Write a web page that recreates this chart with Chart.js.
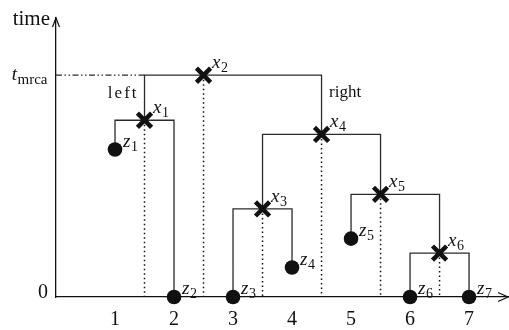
<!DOCTYPE html>
<html>
<head>
<meta charset="utf-8">
<script src="https://cdn.jsdelivr.net/npm/chart.js@4.4.1/dist/chart.umd.min.js"></script>
<style>
html,body{margin:0;padding:0;background:#fff;}
#c{display:block;}
</style>
</head>
<body>
<canvas id="c" width="509" height="330"></canvas>
<script>
// ---- data ----
const leafNames = ['z1','z2','z3','z4','z5','z6','z7'];
const leafX     = [1, 2, 3, 4, 5, 6, 7];
const leafTime  = [6.65, 0, 0, 1.33, 2.63, 0, 0];

const nodeNames = ['x1','x2','x3','x4','x5','x6'];
const nodeX     = [1.5, 2.5, 3.5, 4.5, 5.5, 6.5];
const nodeTime  = [7.97, 10, 3.97, 7.33, 4.63, 1.98];
const leftChild  = ['z1','x1','z3','x3','z5','z6'];
const rightChild = ['z2','x4','z4','x5','x6','z7'];

const xTicks = [1, 2, 3, 4, 5, 6, 7];
const rootName = 'x2';
const tmrca = nodeTime[nodeNames.indexOf(rootName)];

// ---- helpers ----
function posOf(name){
  let i = leafNames.indexOf(name);
  if (i >= 0) return {x: leafX[i], y: leafTime[i]};
  i = nodeNames.indexOf(name);
  return {x: nodeX[i], y: nodeTime[i]};
}

const LINE = '#2b2b2b';
const INK = '#111';
const SERIF = '"Liberation Serif", "Times New Roman", serif';

const datasets = [];
// points first (drawn on top)
datasets.push({
  label: 'nodes',
  data: nodeX.map((x,i)=>({x, y: nodeTime[i]})),
  pointStyle: 'crossRot', pointRadius: 10, borderWidth: 4.5,
  borderColor: INK, backgroundColor: INK, showLine: false, order: 0, clip: false
});
datasets.push({
  label: 'leaves',
  data: leafX.map((x,i)=>({x, y: leafTime[i]})),
  pointStyle: 'circle', pointRadius: 7.3, borderWidth: 0,
  borderColor: INK, backgroundColor: INK, showLine: false, order: 1, clip: false
});
// tree branches
nodeNames.forEach((n,i)=>{
  const l = posOf(leftChild[i]), r = posOf(rightChild[i]);
  datasets.push({
    label: 'branch ' + n,
    data: [{x:l.x,y:l.y},{x:l.x,y:nodeTime[i]},{x:r.x,y:nodeTime[i]},{x:r.x,y:r.y}],
    showLine: true, pointRadius: 0, borderColor: LINE, borderWidth: 1.3,
    tension: 0, fill: false, order: 3, clip: false
  });
  // dotted drop line
  datasets.push({
    label: 'drop ' + n,
    data: [{x:nodeX[i],y:nodeTime[i]},{x:nodeX[i],y:0}],
    showLine: true, pointRadius: 0, borderColor: INK, borderWidth: 1.5,
    borderDash: [1.5, 3], tension: 0, fill: false, order: 4, clip: false
  });
});
// t_mrca dash-dot-dot line
const rootLeft = posOf(leftChild[nodeNames.indexOf(rootName)]);
datasets.push({
  label: 'tmrca',
  data: [{x:0,y:tmrca},{x:rootLeft.x,y:tmrca}],
  showLine: true, pointRadius: 0, borderColor: LINE, borderWidth: 1.2,
  borderDash: [6, 2.5, 1.5, 2.5, 1.5, 2.5], tension: 0, fill: false, order: 4, clip: false
});

function subText(ctx, main, sub, x, y, mainSize, subSize, italic){
  ctx.font = (italic ? 'italic ' : '') + mainSize + 'px ' + SERIF;
  ctx.textAlign = 'left';
  ctx.textBaseline = 'alphabetic';
  ctx.fillText(main, x, y);
  const w = ctx.measureText(main).width;
  ctx.font = subSize + 'px ' + SERIF;
  ctx.fillText(sub, x + w + 0.5, y + 4);
}

const decor = {
  id: 'decor',
  afterDraw(chart){
    const ctx = chart.ctx;
    const xs = chart.scales.x, ys = chart.scales.y;
    const ax = xs.getPixelForValue(0), ay = ys.getPixelForValue(0);
    ctx.save();
    ctx.fillStyle = INK;
    // node labels
    nodeNames.forEach((n,i)=>{
      const px = xs.getPixelForValue(nodeX[i]), py = ys.getPixelForValue(nodeTime[i]);
      subText(ctx, n[0], n.slice(1), px + 8.5, py - 7, 19, 14, true);
    });
    leafNames.forEach((n,i)=>{
      const px = xs.getPixelForValue(leafX[i]), py = ys.getPixelForValue(leafTime[i]);
      subText(ctx, n[0], n.slice(1), px + 8, py - 3, 19, 14, true);
    });
    // left / right labels
    const ri = nodeNames.indexOf(rootName);
    const rr = posOf(rightChild[ri]);
    const ty = ys.getPixelForValue(tmrca);
    ctx.font = '17px ' + SERIF;
    ctx.textBaseline = 'alphabetic';
    if ('letterSpacing' in ctx) ctx.letterSpacing = '2px';
    ctx.textAlign = 'right';
    ctx.fillText('left', xs.getPixelForValue(rootLeft.x) - 6, ty + 23);
    if ('letterSpacing' in ctx) ctx.letterSpacing = '0px';
    ctx.textAlign = 'left';
    ctx.fillText('right', xs.getPixelForValue(rr.x) + 7.5, ty + 22);
    // y labels
    ctx.font = '20px ' + SERIF;
    ctx.textAlign = 'right';
    ctx.fillText('0', ax - 8, ay + 1);
    ctx.font = 'italic 19px ' + SERIF;
    const wt = ctx.measureText('t').width;
    ctx.font = '15px ' + SERIF;
    const wm = ctx.measureText('mrca').width;
    const sx = ax - 8 - wt - wm - 1;
    subText(ctx, 't', 'mrca', sx, ty + 5, 19, 15, true);
    ctx.font = '21px ' + SERIF;
    ctx.textAlign = 'right';
    ctx.fillText('time', ax - 6, ys.top + 7);
    // arrows
    ctx.strokeStyle = INK;
    ctx.lineWidth = 1.2;
    ctx.beginPath();
    const topY = ys.top;
    ctx.moveTo(ax - 3.5, topY + 9); ctx.lineTo(ax, topY); ctx.lineTo(ax + 3.5, topY + 9);
    const rx = xs.right;
    ctx.moveTo(rx - 10, ay - 4.5); ctx.lineTo(rx, ay); ctx.lineTo(rx - 10, ay + 4.5);
    ctx.stroke();
    ctx.restore();
  }
};

new Chart(document.getElementById('c'), {
  type: 'scatter',
  data: { datasets },
  options: {
    responsive: false,
    devicePixelRatio: 1,
    animation: false,
    layout: { autoPadding: false, padding: { top: 18, right: 1, left: 0, bottom: 0 } },
    plugins: { legend: { display: false }, tooltip: { enabled: false } },
    scales: {
      x: {
        type: 'linear', min: 0, max: 7.66,
        grid: { display: false, drawTicks: false },
        border: { display: true, color: INK, width: 1.3 },
        ticks: { color: INK, padding: 11, font: { family: SERIF, size: 20 }, callback: v => String(v) },
        afterBuildTicks: s => { s.ticks = xTicks.map(v => ({ value: v })); },
        afterFit: s => { s.height = 33; s.paddingLeft = 0; s.paddingRight = 0; }
      },
      y: {
        type: 'linear', min: 0, max: 12.58,
        grid: { display: false, drawTicks: false },
        border: { display: true, color: INK, width: 1.3 },
        ticks: { display: false },
        afterFit: s => { s.width = 56; s.paddingTop = 0; s.paddingBottom = 0; }
      }
    }
  },
  plugins: [decor]
});
</script>
</body>
</html>
